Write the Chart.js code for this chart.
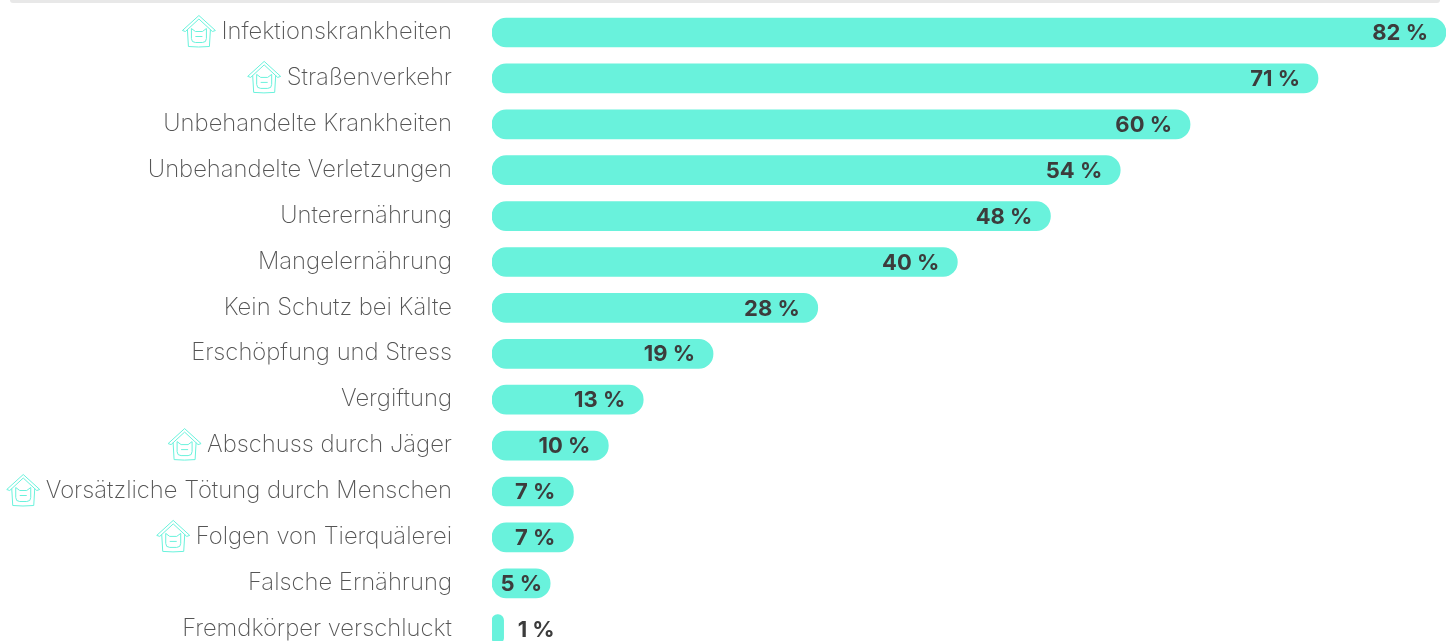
<!DOCTYPE html>
<html lang="de">
<head>
<meta charset="utf-8">
<title>Todesursachen</title>
<script src="https://cdn.jsdelivr.net/npm/chart.js@4"></script>
<style>
  html, body { margin: 0; padding: 0; background: #fff; width: 1447px; height: 641px; overflow: hidden; }
  #topline { position: absolute; left: 10px; top: 0; width: 1430px; height: 3px; background: #e8e8e8; border-radius: 0 0 3px 3px; }
  #wrap { position: absolute; left: 0; top: 0; width: 1447px; height: 700px; }
</style>
</head>
<body>
<div id="topline"></div>
<div id="wrap"><canvas id="myChart" width="1447" height="700"></canvas></div>
<script>
const categories = ["Infektionskrankheiten", "Straßenverkehr", "Unbehandelte Krankheiten", "Unbehandelte Verletzungen", "Unterernährung", "Mangelernährung", "Kein Schutz bei Kälte", "Erschöpfung und Stress", "Vergiftung", "Abschuss durch Jäger", "Vorsätzliche Tötung durch Menschen", "Folgen von Tierquälerei", "Falsche Ernährung", "Fremdkörper verschluckt"];
const values = [82, 71, 60, 54, 48, 40, 28, 19, 13, 10, 7, 7, 5, 1];
const withHouse = ["Infektionskrankheiten", "Straßenverkehr", "Abschuss durch Jäger", "Vorsätzliche Tötung durch Menschen", "Folgen von Tierquälerei"];

const barColor = "#69f2dc";
const labelFont = "200 23.8px Inter";
const valueFont = "700 22px Inter";

// line-art house with the cat face, drawn left of the tick label
function drawHouse(ctx, x, y) {
  ctx.save();
  ctx.translate(x, y);
  ctx.strokeStyle = barColor;
  ctx.lineWidth = 1;
  ctx.lineJoin = "round";
  ctx.beginPath();
  // roof, double line
  ctx.moveTo(0, -2); ctx.lineTo(16.5, -17); ctx.lineTo(33, -2); ctx.lineTo(30, -1);
  ctx.lineTo(16.5, -13.5); ctx.lineTo(3, -1); ctx.closePath();
  // walls
  ctx.moveTo(5, -3); ctx.lineTo(6, 14); ctx.quadraticCurveTo(16, 15, 27, 14); ctx.lineTo(28, -3);
  ctx.stroke();
  // cat head with ears
  ctx.beginPath();
  ctx.moveTo(9, -4); ctx.lineTo(13, -1); ctx.lineTo(20, -1); ctx.lineTo(24, -4);
  ctx.lineTo(24, 6); ctx.quadraticCurveTo(24, 10, 20, 10); ctx.lineTo(13, 10);
  ctx.quadraticCurveTo(9, 10, 9, 6); ctx.closePath();
  ctx.moveTo(13, 4); ctx.lineTo(20, 4);
  ctx.stroke();
  ctx.restore();
}

const barExtras = {
  id: "barExtras",
  afterDraw(chart) {
    const ctx = chart.ctx;
    const bars = chart.getDatasetMeta(0).data;
    const yScale = chart.scales.y;
    ctx.save();
    // value labels
    ctx.font = valueFont;
    ctx.fillStyle = "#3c3c3c";
    ctx.textBaseline = "middle";
    values.forEach((v, i) => {
      const bar = bars[i];
      const txt = v + " %";
      if (v <= 1) {
        ctx.textAlign = "left";
        ctx.fillText(txt, bar.x + 14, bar.y + 1);
      } else if (v <= 5) {
        ctx.textAlign = "right";
        ctx.fillText(txt, bar.x - 8, bar.y + 1);
      } else {
        ctx.textAlign = "right";
        ctx.fillText(txt, bar.x - 18, bar.y + 1);
      }
    });
    // house icons
    ctx.font = labelFont;
    categories.forEach((c, i) => {
      if (!withHouse.includes(c)) return;
      const w = ctx.measureText(c).width;
      drawHouse(ctx, 452 - w - 39, yScale.getPixelForValue(i));
    });
    ctx.restore();
  }
};

new Chart(document.getElementById("myChart"), {
  type: "bar",
  data: {
    labels: categories,
    datasets: [{
      data: values,
      backgroundColor: barColor,
      barThickness: 29,
      borderRadius: 15,
      borderSkipped: false
    }]
  },
  options: {
    indexAxis: "y",
    responsive: false,
    animation: false,
    layout: { padding: { top: 9.55, right: 1, bottom: 47.85, left: 0 } },
    plugins: {
      legend: { display: false },
      tooltip: { enabled: false }
    },
    scales: {
      x: {
        display: false,
        min: 0,
        max: 82
      },
      y: {
        afterFit(scale) {
          scale.width = 492;
          // tick padding would otherwise eat into the row height
          scale.paddingTop = 0;
          scale.paddingBottom = 0;
        },
        grid: { display: false },
        border: { display: false },
        ticks: {
          padding: 32,
          autoSkip: false,
          labelOffset: -0.5,
          color: "#555555",
          font: { family: "Inter", size: 23.8, weight: "200" }
        }
      }
    }
  },
  plugins: [barExtras]
});
</script>
</body>
</html>
